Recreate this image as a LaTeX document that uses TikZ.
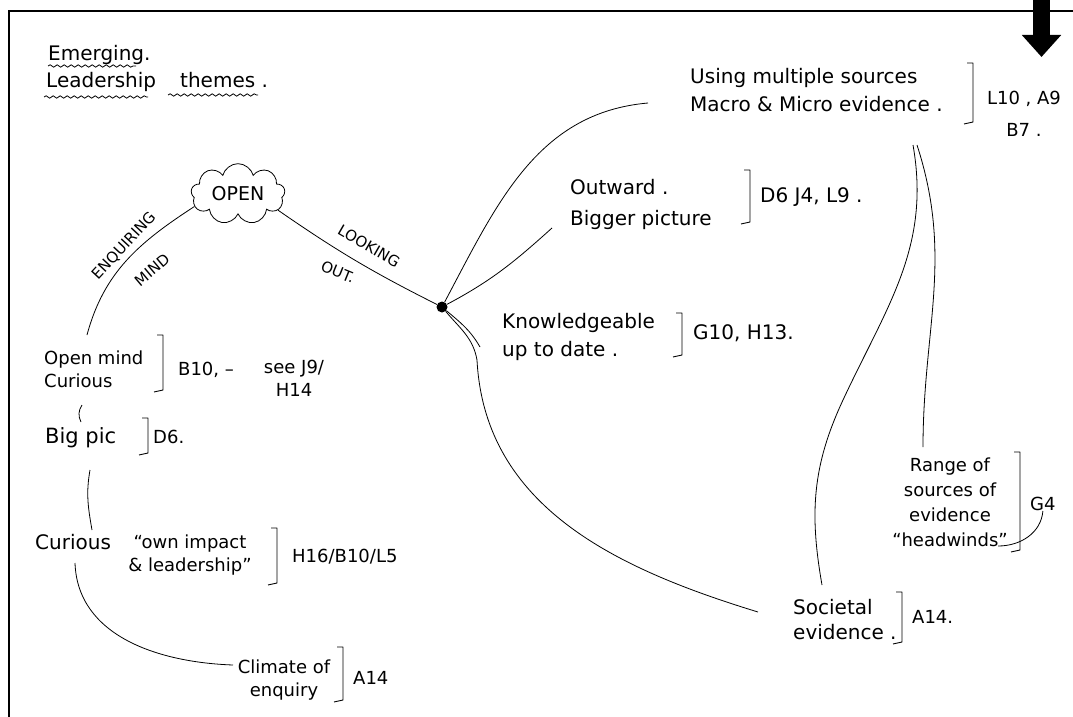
\documentclass[tikz,border=0pt]{standalone}
\usepackage{fontspec}
\setmainfont{DejaVu Sans}
\usetikzlibrary{shapes.symbols,arrows.meta,decorations.pathmorphing}

\begin{document}
\begin{tikzpicture}[x=1pt, y=1pt,
  note/.style={font=\fontsize{20}{28}\selectfont, inner sep=0pt, anchor=west, align=left},
  small/.style={font=\fontsize{18}{23}\selectfont, inner sep=0pt, anchor=west, align=left},
  caps/.style={font=\fontsize{15}{17}\selectfont, inner sep=0pt},
  brk/.style={line width=0.9pt, line join=round},
  link/.style={line width=0.8pt},
  wavy/.style={line width=0.8pt, decorate, decoration={snake, amplitude=1.2pt, segment length=7pt}}]

  \useasboundingbox (0,0) rectangle (1073,-717);
  \fill[white] (0,0) rectangle (1073,-717);
  \draw[line width=2pt] (9,-717) -- (9,-11) -- (1073,-11);

  \coordinate (AR1) at (1041.5,0);
  \coordinate (AR2) at (1041.5,-57);
  \draw[line width=17pt, -{Triangle[width=38pt,length=22pt]}] (AR1) -- (AR2);

  \node[note, anchor=base west] (TTL1) at (48,-60) {Emerging.};
  \node[note, anchor=base west] (TTL2) at (46,-88) {Leadership};
  \node[note, anchor=base west] (TTL3) at (180,-88) {themes .};
  \draw[wavy] (48,-66) -- (136,-66);
  \draw[wavy] (44,-97) -- (148,-97);
  \draw[wavy] (168,-95) -- (258,-95);

  \node[cloud, draw, link, cloud puffs=9, aspect=1.7, minimum width=94pt, minimum height=58pt, inner sep=0pt, font=\fontsize{19}{20}\selectfont] (OPEN) at (238,-194) {OPEN};
  \node[circle, fill=black, inner sep=0pt, minimum size=11pt] (HUB) at (442,-307) {};

  \node[caps, rotate=47] (ENQ) at (124,-246) {ENQUIRING};
  \node[caps, rotate=40] (MIND) at (152,-270) {MIND};
  \node[caps, rotate=-30] (LOOK) at (369,-246) {LOOKING};
  \node[caps, rotate=-22] (OUTL) at (338,-272) {OUT.};

  \node[small] (OM) at (44,-369) {Open mind\\Curious};
  \node[small] (OMREF) at (178,-370) {B10, –};
  \node[small, align=center, anchor=center] (OMSEE) at (294,-378) {see J9/\\H14};
  \node[small, font=\fontsize{21}{23}\selectfont] (BP) at (45,-438) {Big pic};
  \node[small] (BPREF) at (153,-437) {D6.};
  \node[small, font=\fontsize{20}{23}\selectfont] (CUR) at (35,-542) {Curious};
  \node[small, align=center, anchor=center] (CURQ) at (190,-555) {“own impact\\\& leadership”};
  \node[small] (CURREF) at (292,-557) {H16/B10/L5};
  \node[small, align=center, anchor=center] (CLIM) at (284,-680) {Climate of\\enquiry};
  \node[small] (CLIMREF) at (353,-678) {A14};

  \node[note] (USE) at (690,-90) {Using multiple sources\\Macro \& Micro evidence .};
  \node[small, font=\fontsize{18}{32}\selectfont, align=center, anchor=center] (USEREF) at (1024,-114) {L10 , A9\\B7 .};
  \node[note, font=\fontsize{20}{31}\selectfont] (OUTW) at (570,-204) {Outward .\\Bigger picture};
  \node[note] (OUTREF) at (760,-197) {D6 J4, L9 .};
  \node[note] (KNOW) at (502,-337) {Knowledgeable\\up to date .};
  \node[note] (KNOWREF) at (693,-333) {G10, H13.};
  \node[small, font=\fontsize{18}{25}\selectfont, align=center, anchor=center] (RNG) at (950,-502) {Range of\\sources of\\evidence\\“headwinds”};
  \node[small] (RNGREF) at (1030,-504) {G4};
  \node[note, font=\fontsize{20}{25}\selectfont] (SOC) at (793,-620) {Societal\\evidence .};
  \node[small] (SOCREF) at (912,-617) {A14.};

  \draw[brk] (967,-63) -- (973,-63) -- (973,-122) -- (964,-124);
  \draw[brk] (744,-170) -- (750,-170) -- (750,-222) -- (741,-224);
  \draw[brk] (676,-313) -- (682,-313) -- (682,-355) -- (673,-357);
  \draw[brk] (1014,-452) -- (1020,-452) -- (1020,-550) -- (1011,-552);
  \draw[brk] (896,-592) -- (902,-592) -- (902,-642) -- (893,-644);
  \draw[brk] (157,-335) -- (163,-335) -- (163,-390) -- (154,-392);
  \draw[brk] (142,-418) -- (148,-418) -- (148,-453) -- (139,-455);
  \draw[brk] (271,-528) -- (277,-528) -- (277,-583) -- (268,-585);
  \draw[brk] (337,-647) -- (343,-647) -- (343,-700) -- (334,-702);

  \coordinate (E1) at (87,-335);
  \coordinate (U1) at (648,-103);
  \coordinate (W1) at (552,-228);
  \coordinate (K1) at (480,-347);
  \coordinate (K2) at (477,-360);
  \coordinate (S1) at (758,-612);
  \coordinate (U2) at (913,-145);
  \coordinate (U3) at (917,-145);
  \coordinate (M1) at (843,-400);
  \coordinate (S2) at (822,-585);
  \coordinate (R1) at (923,-447);
  \coordinate (G2) at (998,-546);
  \coordinate (B1) at (82,-405);
  \coordinate (B2) at (81,-422);
  \coordinate (C1) at (90,-470);
  \coordinate (C2) at (92,-530);
  \coordinate (C3) at (75,-563);
  \coordinate (C4) at (233,-665);

  \draw[link] (OPEN.196) to[out=213, in=75] (E1);
  \draw[link] (OPEN.-22) to[bend right=4] (HUB);
  \draw[link] (HUB) to[out=62, in=185] (U1);
  \draw[link] (HUB) to[out=28, in=222] (W1);
  \draw[link] (HUB) to[out=-40, in=120] (K1);
  \draw[link] (HUB) to[out=-50, in=100] (K2) to[out=-87, in=163] (S1);
  \draw[link] (U2) to[out=-80, in=65] (M1) to[out=-115, in=100] (S2);
  \draw[link] (U3) to[out=-72, in=90] (R1);
  \draw[link] (RNGREF.south) to[out=-95, in=0] (G2);
  \draw[link] (B1) to[bend right=30] (B2);
  \draw[link] (C1) to[out=-100, in=100] (C2);
  \draw[link] (C3) to[out=-88, in=178] (C4);
\end{tikzpicture}
\end{document}
